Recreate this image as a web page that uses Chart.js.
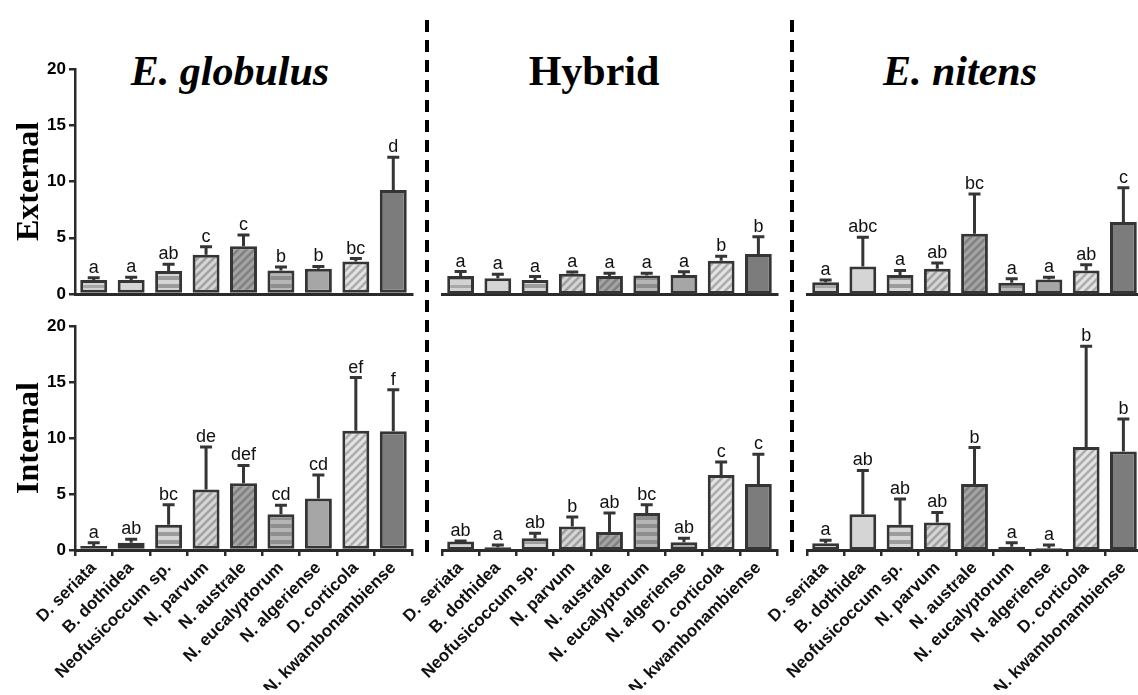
<!DOCTYPE html>
<html>
<head>
<meta charset="utf-8">
<script src="https://cdn.jsdelivr.net/npm/chart.js@4"></script>
<style>
  body { margin: 0; background: #fff; overflow: hidden; }
  #wrap { position: relative; width: 1138px; height: 695px; overflow: hidden; background: #fff; }
  canvas { position: absolute; left: 0; top: 0; }
  .title { position: absolute; top: 50px; width: 300px; text-align: center; color: #000;
           font: bold 42px "Liberation Serif", "Times New Roman", serif; line-height: 42px; }
</style>
</head>
<body>
<div id="wrap">
  <div class="title" style="left:80px;font-style:italic">E. globulus</div>
  <div class="title" style="left:444px">Hybrid</div>
  <div class="title" style="left:810px;font-style:italic">E. nitens</div>
  <canvas id="c0" width="1150" height="695"></canvas>
  <canvas id="c1" width="1150" height="695"></canvas>
  <canvas id="c2" width="1150" height="695"></canvas>
  <canvas id="c3" width="1150" height="695"></canvas>
  <canvas id="c4" width="1150" height="695"></canvas>
  <canvas id="c5" width="1150" height="695"></canvas>
</div>
<script>
// ---- data ----
const species = ['D. seriata', 'B. dothidea', 'Neofusicoccum sp.', 'N. parvum', 'N. australe',
                 'N. eucalyptorum', 'N. algeriense', 'D. corticola', 'N. kwambonambiense'];
const yTicks = [0, 5, 10, 15, 20];

const extGlobulus        = [1.25, 1.25, 2.05, 3.5, 4.25, 2.1, 2.25, 2.9, 9.25];
const extGlobulusErr     = [0.2, 0.25, 0.6, 0.7, 1.0, 0.3, 0.2, 0.25, 2.9];
const extGlobulusLetters = ['a', 'a', 'ab', 'c', 'c', 'b', 'b', 'bc', 'd'];

const extHybrid        = [1.6, 1.4, 1.25, 1.8, 1.6, 1.65, 1.7, 2.95, 3.55];
const extHybridErr     = [0.4, 0.35, 0.3, 0.15, 0.25, 0.2, 0.27, 0.4, 1.55];
const extHybridLetters = ['a', 'a', 'a', 'a', 'a', 'a', 'a', 'b', 'b'];

const extNitens        = [1.05, 2.45, 1.7, 2.25, 5.35, 1.0, 1.3, 2.1, 6.4];
const extNitensErr     = [0.2, 2.6, 0.4, 0.5, 3.55, 0.35, 0.2, 0.5, 3.05];
const extNitensLetters = ['a', 'abc', 'a', 'ab', 'bc', 'a', 'a', 'ab', 'c'];

const intGlobulus        = [0.35, 0.65, 2.25, 5.4, 5.95, 3.2, 4.6, 10.65, 10.6];
const intGlobulusErr     = [0.3, 0.3, 1.8, 3.8, 1.6, 0.8, 2.1, 4.75, 3.7];
const intGlobulusLetters = ['a', 'ab', 'bc', 'de', 'def', 'cd', 'cd', 'ef', 'f'];

const intHybrid        = [0.75, 0.25, 1.05, 2.1, 1.6, 3.3, 0.7, 6.7, 5.9];
const intHybridErr     = [0.05, 0.2, 0.45, 0.85, 1.7, 0.75, 0.35, 1.15, 2.65];
const intHybridLetters = ['ab', 'a', 'ab', 'b', 'ab', 'bc', 'ab', 'c', 'c'];

const intNitens        = [0.6, 3.2, 2.25, 2.45, 5.9, 0.3, 0.15, 9.2, 8.8];
const intNitensErr     = [0.27, 3.9, 2.3, 0.9, 3.25, 0.35, 0.3, 9.0, 2.9];
const intNitensLetters = ['a', 'ab', 'ab', 'ab', 'b', 'a', 'a', 'b', 'b'];

// ---- fills ----
function makeFill(base, line, kind, size) {
  if (!kind) return base;
  const c = document.createElement('canvas');
  c.width = 8; c.height = 8;
  const g = c.getContext('2d');
  g.fillStyle = base;
  g.fillRect(0, 0, 8, 8);
  if (kind === 'h') {
    g.fillStyle = line;
    g.fillRect(0, 8 - size, 8, size);
  } else {
    g.strokeStyle = line;
    g.lineWidth = 2.6;
    g.beginPath();
    g.moveTo(-2, 10); g.lineTo(10, -2);
    g.moveTo(-2, 2); g.lineTo(2, -2);
    g.moveTo(6, 10); g.lineTo(10, 6);
    g.stroke();
  }
  return g.createPattern(c, 'repeat');
}

const fills = [
  makeFill('#d2d2d2', '#a8a8a8', 'h', 3),
  makeFill('#d5d5d5'),
  makeFill('#d6d6d6', '#9c9c9c', 'h', 4),
  makeFill('#d6d6d6', '#a0a0a0', 'd'),
  makeFill('#a4a4a4', '#808080', 'd'),
  makeFill('#b6b6b6', '#8e8e8e', 'h', 4),
  makeFill('#a6a6a6'),
  makeFill('#e3e3e3', '#acacac', 'd'),
  makeFill('#7c7c7c')
];

// ---- plugins ----
const errorBars = {
  id: 'errorBars',
  afterDatasetsDraw(chart) {
    const ctx = chart.ctx;
    const ds = chart.data.datasets[0];
    const meta = chart.getDatasetMeta(0);
    const y = chart.scales.y;
    ctx.save();
    meta.data.forEach((bar, i) => {
      const top = y.getPixelForValue(ds.data[i] + ds.errors[i]);
      ctx.strokeStyle = '#353535';
      ctx.lineWidth = 3;
      ctx.beginPath();
      ctx.moveTo(bar.x, bar.y);
      ctx.lineTo(bar.x, top);
      ctx.moveTo(bar.x - 6, top);
      ctx.lineTo(bar.x + 6, top);
      ctx.stroke();
      ctx.fillStyle = '#111';
      ctx.font = '18px "Liberation Sans", Arial, sans-serif';
      ctx.textAlign = 'center';
      ctx.textBaseline = 'alphabetic';
      ctx.fillText(ds.letters[i], bar.x, top - 5);
    });
    ctx.restore();
  }
};

const separator = {
  id: 'separator',
  afterDraw(chart, args, opts) {
    if (!opts.show) return;
    const ctx = chart.ctx;
    const x = chart.chartArea.left - 15;
    ctx.save();
    ctx.strokeStyle = '#000';
    ctx.lineWidth = 4;
    ctx.setLineDash([12, 8]);
    ctx.beginPath();
    ctx.moveTo(x, 20);
    ctx.lineTo(x, chart.chartArea.bottom + 6);
    ctx.stroke();
    ctx.restore();
  }
};

Chart.defaults.font.family = '"Liberation Sans", Arial, sans-serif';
Chart.defaults.color = '#000';

// ---- layout ----
const W = 1150, H = 695;
const cols = [{ left: 75, right: 412 }, { left: 442, right: 777 }, { left: 807, right: 1142 }];
const rows = [{ top: 69, bottom: 294, xH: 10, title: 'External' },
              { top: 326, bottom: 550, xH: 140, title: 'Internal' }];
const yW = 75;

function panel(id, row, col, values, errs, letters) {
  const r = rows[row], c = cols[col];
  const showY = col === 0;
  const showX = row === 1;
  return new Chart(document.getElementById(id), {
    type: 'bar',
    data: {
      labels: species,
      datasets: [{
        data: values,
        errors: errs,
        letters: letters,
        backgroundColor: fills,
        borderColor: '#353535',
        borderWidth: 3,
        borderSkipped: false,
        categoryPercentage: 1,
        barPercentage: 0.72
      }]
    },
    options: {
      responsive: false,
      animation: false,
      events: [],
      layout: {
        padding: {
          left: showY ? c.left - yW : c.left,
          right: W - c.right,
          top: r.top,
          bottom: H - r.bottom - r.xH
        }
      },
      plugins: {
        legend: { display: false },
        tooltip: { enabled: false },
        separator: { show: row === 1 && col > 0 }
      },
      scales: {
        x: {
          offset: true,
          afterFit: s => { s.height = r.xH; },
          border: { display: true, color: '#2a2a2a', width: 3 },
          grid: { display: showX, drawOnChartArea: false, tickLength: 6, lineWidth: 2.5, color: '#2a2a2a' },
          ticks: {
            display: showX,
            autoSkip: false,
            minRotation: 45,
            maxRotation: 45,
            padding: 2,
            color: '#111',
            font: { size: 17, weight: 'bold' }
          }
        },
        y: {
          display: showY,
          min: 0,
          max: 20,
          afterFit: s => { s.width = showY ? yW : 0; },
          afterBuildTicks: s => { s.ticks = yTicks.map(v => ({ value: v })); },
          border: { display: true, color: '#2a2a2a', width: 2.5 },
          grid: { drawOnChartArea: false, tickLength: 6, lineWidth: 2.5, color: '#2a2a2a' },
          ticks: { padding: 3, color: '#000', font: { size: 17, weight: 'bold' } },
          title: {
            display: true,
            text: r.title,
            color: '#000',
            padding: { top: 11, bottom: 0 },
            font: { family: '"Liberation Serif", "Times New Roman", serif', size: 32, weight: 'bold' }
          }
        }
      }
    },
    plugins: [errorBars, separator]
  });
}

panel('c0', 0, 0, extGlobulus, extGlobulusErr, extGlobulusLetters);
panel('c1', 0, 1, extHybrid, extHybridErr, extHybridLetters);
panel('c2', 0, 2, extNitens, extNitensErr, extNitensLetters);
panel('c3', 1, 0, intGlobulus, intGlobulusErr, intGlobulusLetters);
panel('c4', 1, 1, intHybrid, intHybridErr, intHybridLetters);
panel('c5', 1, 2, intNitens, intNitensErr, intNitensLetters);
</script>
</body>
</html>
